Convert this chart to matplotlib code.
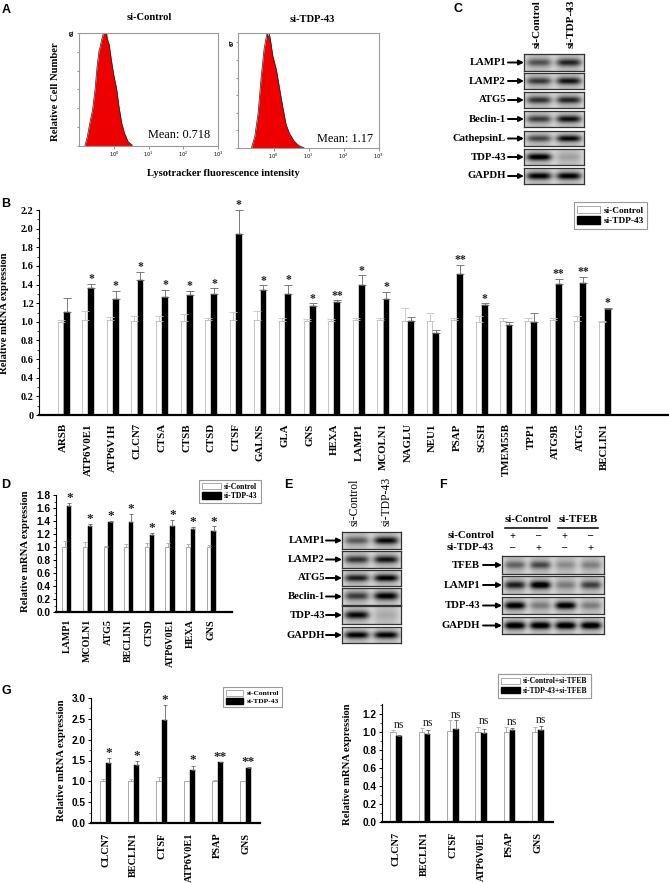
import numpy as np
import matplotlib
matplotlib.use('Agg')
import matplotlib.pyplot as plt
from matplotlib.patches import Patch

W, H = 669, 883
SERIF = 'Liberation Serif'
SANS = 'Liberation Sans'

# panel A
hist1_log = [-0.83, -0.76, -0.69, -0.61, -0.54, -0.48, -0.42, -0.39, -0.36, -0.31, -0.28, -0.25, -0.22, -0.19, -0.13,
             -0.07, 0.0, 0.08, 0.15, 0.23, 0.31, 0.41, 0.53]
hist1_count = [0, 4.9, 12.1, 19.4, 30.2, 42.9, 51.9, 53.5, 56.5, 60.1, 63, 61, 63.5, 58.3, 54.6,
               46.5, 38.3, 31.1, 21.2, 12.1, 6.7, 2.2, 0.2]
hist2_log = [-0.63, -0.535, -0.44, -0.35, -0.27, -0.21, -0.18, -0.15, -0.12, -0.09, -0.02, 0.08, 0.17, 0.26, 0.36,
             0.45, 0.59, 0.73, 0.87]
hist2_count = [0, 7.4, 22.3, 45.7, 62.7, 70.2, 73, 69.5, 72.5, 69.1, 58.5, 50, 38.3, 26.6, 14.9,
               9.6, 4.3, 1.5, 0.2]

# panel B
b_genes = ['ARSB', 'ATP6V0E1', 'ATP6V1H', 'CLCN7', 'CTSA', 'CTSB', 'CTSD', 'CTSF', 'GALNS', 'GLA', 'GNS', 'HEXA',
           'LAMP1', 'MCOLN1', 'NAGLU', 'NEU1', 'PSAP', 'SGSH', 'TMEM55B', 'TPP1', 'ATG9B', 'ATG5', 'BECLIN1']
b_ctrl = [1.00, 1.02, 1.02, 1.01, 1.01, 1.01, 1.02, 1.02, 1.02, 1.01, 1.01, 1.01,
          1.02, 1.02, 1.01, 1.01, 1.02, 1.00, 1.01, 1.01, 1.02, 1.01, 1.00]
b_ctrl_top = [1.02, 1.12, 1.05, 1.06, 1.06, 1.08, 1.04, 1.11, 1.12, 1.04, 1.03, 1.03,
              1.04, 1.04, 1.15, 1.10, 1.04, 1.06, 1.04, 1.04, 1.04, 1.06, 1.01]
b_tdp = [1.11, 1.36, 1.25, 1.45, 1.27, 1.29, 1.30, 1.94, 1.34, 1.30, 1.17, 1.21,
         1.40, 1.24, 1.01, 0.88, 1.51, 1.18, 0.97, 1.00, 1.41, 1.42, 1.14]
b_tdp_top = [1.26, 1.41, 1.33, 1.54, 1.34, 1.33, 1.36, 2.20, 1.39, 1.40, 1.20, 1.23,
             1.50, 1.32, 1.05, 0.91, 1.61, 1.20, 1.00, 1.10, 1.46, 1.48, 1.15]
b_stars = ['', '*', '*', '*', '*', '*', '*', '*', '*', '*', '*', '**',
           '*', '*', '', '', '**', '*', '', '', '**', '**', '*']

# panel D
d_genes = ['LAMP1', 'MCOLN1', 'ATG5', 'BECLIN1', 'CTSD', 'ATP6V0E1', 'HEXA', 'GNS']
d_ctrl = [1.0, 1.0, 1.0, 1.0, 1.0, 1.0, 1.0, 1.0]
d_ctrl_top = [1.09, 1.07, 1.01, 1.04, 1.06, 1.06, 1.04, 1.03]
d_tdp = [1.63, 1.33, 1.38, 1.38, 1.19, 1.32, 1.28, 1.24]
d_tdp_top = [1.68, 1.36, 1.40, 1.51, 1.22, 1.42, 1.31, 1.32]
d_stars = ['*'] * 8

# panel G
g_genes = ['CLCN7', 'BECLIN1', 'CTSF', 'ATP6V0E1', 'PSAP', 'GNS']
g_ctrl = [1.0, 1.0, 1.0, 1.0, 1.0, 1.0]
g_ctrl_top = [1.06, 1.06, 1.11, 1.01, 1.04, 1.01]
g_tdp = [1.43, 1.39, 2.48, 1.28, 1.46, 1.32]
g_tdp_top = [1.55, 1.49, 2.83, 1.38, 1.47, 1.35]
g_stars = ['*', '*', '*', '*', '**', '**']

# panel G, right
h_genes = ['CLCN7', 'BECLIN1', 'CTSF', 'ATP6V0E1', 'PSAP', 'GNS']
h_ctrl = [1.00, 1.00, 1.01, 1.00, 1.00, 1.00]
h_ctrl_top = [1.02, 1.04, 1.13, 1.06, 1.05, 1.05]
h_tfeb = [0.95, 0.98, 1.03, 0.99, 1.02, 1.02]
h_tfeb_top = [0.97, 1.02, 1.13, 1.03, 1.04, 1.07]
h_stars = ['ns'] * 6

# blots: darkness of the band in each lane
c_rows = ['LAMP1', 'LAMP2', 'ATG5', 'Beclin-1', 'CathepsinL', 'TDP-43', 'GAPDH']
c_bands = [[0.5, 0.72], [0.62, 0.8], [0.65, 0.72], [0.6, 0.82], [0.55, 0.85], [0.95, 0.12], [0.9, 0.9]]
e_rows = ['LAMP1', 'LAMP2', 'ATG5', 'Beclin-1', 'TDP-43', 'GAPDH']
e_bands = [[0.45, 0.85], [0.65, 0.8], [0.75, 0.9], [0.6, 0.9], [0.85, 0.08], [0.9, 0.9]]
f_rows = ['TFEB', 'LAMP1', 'TDP-43', 'GAPDH']
f_bands = [[0.42, 0.55, 0.22, 0.28], [0.75, 0.98, 0.3, 0.6], [0.95, 0.3, 0.95, 0.3], [1.0, 1.0, 1.0, 1.0]]
f_ctrl_signs = ['+', '–', '+', '–']
f_tdp_signs = ['–', '+', '–', '+']

fig = plt.figure(figsize=(W / 100, H / 100), dpi=100)
fig.patch.set_facecolor('white')


def px_axes(x0, y_top, x1, y_bot):
    return fig.add_axes([x0 / W, 1 - y_bot / H, (x1 - x0) / W, (y_bot - y_top) / H])


# overlay in pixel coordinates for labels and arrows
ov = fig.add_axes([0, 0, 1, 1], zorder=20)
ov.set_xlim(0, W)
ov.set_ylim(H, 0)
ov.axis('off')
ov.patch.set_alpha(0)


def label(x, y, s, size=7, ha='center', va='center', rot=0, bold=True, family=SERIF, color='black'):
    ov.text(x, y, s, fontsize=size, ha=ha, va=va, rotation=rot, family=family,
            fontweight='bold' if bold else 'normal', color=color)


def flow_panel(box, logs, counts, top, top_label):
    ax = px_axes(*box)
    x = 10 ** np.array(logs)
    ax.fill_between(x, counts, color='#ee0000', lw=0)
    ax.plot(x, counts, color='#222222', lw=0.5)
    ax.set_xscale('log')
    ax.set_xlim(0.1, 1000)
    ax.set_ylim(0, top)
    ax.set_xticks([1, 10, 100, 1000])
    ax.set_xticklabels(['$10^0$', '$10^1$', '$10^2$', '$10^3$'], fontsize=3.5, fontweight='bold')
    ax.set_yticks(np.linspace(0, int(top_label), 7))
    ax.set_yticklabels([''] * 6 + [top_label], fontsize=3.5, rotation=90, va='center', fontweight='bold')
    ax.tick_params(length=1.8, width=0.5, color='#666666', pad=1)
    ax.tick_params(which='minor', length=1, width=0.3, color='#666666')
    for s in ax.spines.values():
        s.set_color('#9a9a9a')
        s.set_linewidth(0.8)


def bar_panel(box, xlim, ylim, yticks, minor, fmt, genes, v1, t1, v2, t2, stars, offset, width, edge, tick_size,
              gene_size, tick_family, star_size, star_gap, star_family=SERIF, gene_pad=7, capsize=2.5, lw=1.6):
    ax = px_axes(*box)
    x = np.arange(len(genes))
    ax.bar(x - offset, v1, width, color='white', edgecolor=edge, linewidth=0.7)
    ax.bar(x + offset, v2, width, color='black', edgecolor='black', linewidth=0.3)
    ax.errorbar(x - offset, v1, yerr=[np.zeros(len(v1)), np.array(t1) - np.array(v1)], fmt='none', ecolor=edge,
                elinewidth=0.6, capsize=capsize, capthick=0.6)
    ax.errorbar(x + offset, v2, yerr=[np.zeros(len(v2)), np.array(t2) - np.array(v2)], fmt='none', ecolor='#666666',
                elinewidth=0.6, capsize=capsize, capthick=0.6)
    for i, s in enumerate(stars):
        if s:
            ax.text(i + offset, max(t2[i], t1[i] if s == 'ns' else 0) + star_gap, s, ha='center', va='center',
                    fontsize=star_size, family=star_family, fontweight='normal' if s == 'ns' else 'bold',
                    color='#222222')
    ax.set_xlim(*xlim)
    ax.set_ylim(*ylim)
    ax.set_yticks(yticks)
    ax.set_yticklabels([fmt(v) for v in yticks], fontsize=tick_size, family=tick_family, fontweight='bold')
    ax.set_yticks(minor, minor=True)
    ax.set_xticks(x)
    ax.set_xticklabels(genes, rotation=90, fontsize=gene_size, family=SERIF, fontweight='bold')
    ax.tick_params(axis='x', length=0, pad=gene_pad)
    ax.tick_params(axis='y', length=2.5, width=0.7, pad=1.5)
    ax.tick_params(axis='y', which='minor', length=1.5, width=0.5)
    ax.spines['top'].set_visible(False)
    ax.spines['right'].set_visible(False)
    ax.spines['bottom'].set_linewidth(lw)
    ax.spines['left'].set_linewidth(0.8)
    ax.patch.set_alpha(0)
    return ax


def px_legend(x0, y0, x1, y1, names, size, family=SERIF, hlen=2.4):
    handles = [Patch(facecolor='white', edgecolor='#888888', linewidth=0.5, label=names[0]),
               Patch(facecolor='black', edgecolor='black', label=names[1])]
    leg = ov.legend(handles=handles, loc='center', bbox_to_anchor=((x0 + x1) / 2 / W, 1 - (y0 + y1) / 2 / H),
                    bbox_transform=fig.transFigure, fancybox=False, edgecolor='#999999',
                    handlelength=hlen, handleheight=0.9, handletextpad=0.4, labelspacing=0.15, borderpad=0.4,
                    borderaxespad=0, prop={'family': family, 'weight': 'bold', 'size': size})
    leg.get_frame().set_linewidth(0.8)
    leg.get_frame().set_alpha(1)
    ov.add_artist(leg)


def blot(x0, x1, y0, y1, bands, thick=0.22):
    # one row, drawn as an image of soft bands over a grey background
    ax = px_axes(x0, y0, x1, y1)
    n = len(bands)
    xs = np.linspace(0, n, 120)
    ys = np.linspace(-0.5, 0.5, 40)
    gx, gy = np.meshgrid(xs, ys)
    img = np.full(gx.shape, 0.85)
    for i, d in enumerate(bands):
        prof = np.exp(-((gx - i - 0.5) / 0.42) ** 4)
        img -= 0.85 * d * prof * np.exp(-(gy / thick) ** 2)
        img -= 0.12 * prof
    ax.imshow(np.clip(img, 0, 1), cmap='gray', vmin=0, vmax=1, aspect='auto', interpolation='bilinear')
    ax.set_xticks([])
    ax.set_yticks([])
    for s in ax.spines.values():
        s.set_color('#333333')
        s.set_linewidth(0.9)


def arrow(x0, x1, y):
    ov.annotate('', xy=(x1, y), xytext=(x0, y),
                arrowprops=dict(arrowstyle='-|>', lw=1.4, color='black', mutation_scale=7, shrinkA=0, shrinkB=0))


def blot_rows(names, bands, x0, x1, tops, bots, text_right, arrow_left, size=7.7):
    for name, b, t, bt in zip(names, bands, tops, bots):
        blot(x0, x1, t, bt, b)
        y = (t + bt) / 2
        label(text_right, y, name, size=size, ha='right')
        arrow(arrow_left, x0, y)


# A
flow_panel((79, 33, 218, 145.5), hist1_log, hist1_count, 61, '61')
flow_panel((238.5, 33, 378.5, 148), hist2_log, hist2_count, 73, '67')
label(149, 18, 'si-Control', size=7.6)
label(312, 19, 'si-TDP-43', size=7.6)
label(56, 92, 'Relative Cell Number', size=7.7, rot=90)
label(223, 174, 'Lysotracker fluorescence intensity', size=7.6)
label(210, 135.5, 'Mean: 0.718', size=8.8, ha='right', bold=False)
label(373, 138.5, 'Mean: 1.17', size=8.8, ha='right', bold=False)

# B
bar_panel((39, 210, 668, 415), (-1, 24.57), (0, 2.2), np.arange(0, 2.21, 0.2), np.arange(0, 2.21, 0.1),
          lambda v: '0' if v < 0.01 else f'{v:.1f}', b_genes, b_ctrl, b_ctrl_top, b_tdp, b_tdp_top, b_stars,
          0.125, 0.235, '#c4c4c4', 7.3, 7.8, SERIF, 8.5, 0.05, gene_pad=6, capsize=3.2)
label(5, 313, 'Relative mRNA expression', size=7.7, rot=90)
px_legend(574, 202, 647, 229, ['si-Control', 'si-TDP-43'], 6.7)

# D
bar_panel((56, 495, 232, 612), (-0.53, 8.01), (0, 1.8), np.arange(0, 1.81, 0.2), np.arange(0, 1.81, 0.1),
          lambda v: f'{v:.1f}', d_genes, d_ctrl, d_ctrl_top, d_tdp, d_tdp_top, d_stars,
          0.115, 0.21, '#aaaaaa', 7.3, 7.2, SANS, 9.5, 0.07, gene_pad=5, capsize=1.5)
label(26, 551, 'Relative mRNA expression', size=7.7, rot=90)
px_legend(198, 481, 262, 502, ['si-Control', 'si-TDP-43'], 5.6)

# G left
bar_panel((91, 698, 260, 823), (-0.53, 5.51), (0, 3.0), np.arange(0, 3.01, 0.5), np.arange(0, 3.01, 0.25),
          lambda v: f'{v:.1f}', g_genes, g_ctrl, g_ctrl_top, g_tdp, g_tdp_top, g_stars,
          0.10, 0.2, '#aaaaaa', 7.3, 7.4, SANS, 9.5, 0.12, gene_pad=7, capsize=1.5)
label(61, 760, 'Relative mRNA expression', size=7.7, rot=90)
px_legend(222, 686, 283, 708, ['si-Control', 'si-TDP-43'], 5.4, hlen=2.3)

# G right
bar_panel((382, 704, 553, 822), (-0.505, 5.54), (0, 1.311), np.arange(0, 1.21, 0.2), np.arange(0, 1.31, 0.1),
          lambda v: f'{v:.1f}', h_genes, h_ctrl, h_ctrl_top, h_tfeb, h_tfeb_top, h_stars,
          0.105, 0.2, '#aaaaaa', 7.3, 7.4, SANS, 8.5, 0.06, gene_pad=7, capsize=1.5)
label(348, 764, 'Relative mRNA expression', size=7.7, rot=90)
px_legend(496, 676, 593, 696, ['si-Control+si-TFEB', 'si-TDP-43+si-TFEB'], 5.5)

# C
blot_rows(c_rows, c_bands, 524, 584, [54, 73, 92, 111, 131, 149, 168], [71, 89, 108, 127, 146, 165, 184], 506, 508)
label(537, 48, 'si-Control', size=8, rot=90, va='bottom')
label(571, 48, 'si-TDP-43', size=8, rot=90, va='bottom')

# E
blot_rows(e_rows, e_bands, 342, 401, [532, 551, 570, 588, 606, 627], [549, 568, 586, 605, 624, 643], 325, 326)
label(355, 526, 'si-Control', size=8.4, rot=90, va='bottom', bold=False)
label(386, 526, 'si-TDP-43', size=8.4, rot=90, va='bottom', bold=False)

# F
blot_rows(f_rows, f_bands, 502, 604, [556, 576, 597, 617], [574, 594, 614, 634], 480, 483)
label(528, 520, 'si-Control', size=7.8)
label(578, 519, 'si-TFEB', size=7.8)
ov.plot([505, 547], [528, 528], color='black', lw=1.1)
ov.plot([558, 598], [528, 528], color='black', lw=1.1)
label(494, 536, 'si-Control', size=7.8, ha='right')
label(494, 548, 'si-TDP-43', size=7.8, ha='right')
for xp, c, t in zip([512, 538, 564, 590], f_ctrl_signs, f_tdp_signs):
    label(xp, 536, c, size=7.5)
    label(xp, 548, t, size=7.5)

# panel letters
for s, xp, yp in [('A', 6, 10), ('B', 6, 204), ('C', 458, 9), ('D', 6, 485), ('E', 288, 485), ('F', 443, 485),
                  ('G', 6, 691)]:
    label(xp, yp, s, size=9, family=SANS)

fig.savefig('out.png', dpi=100)
